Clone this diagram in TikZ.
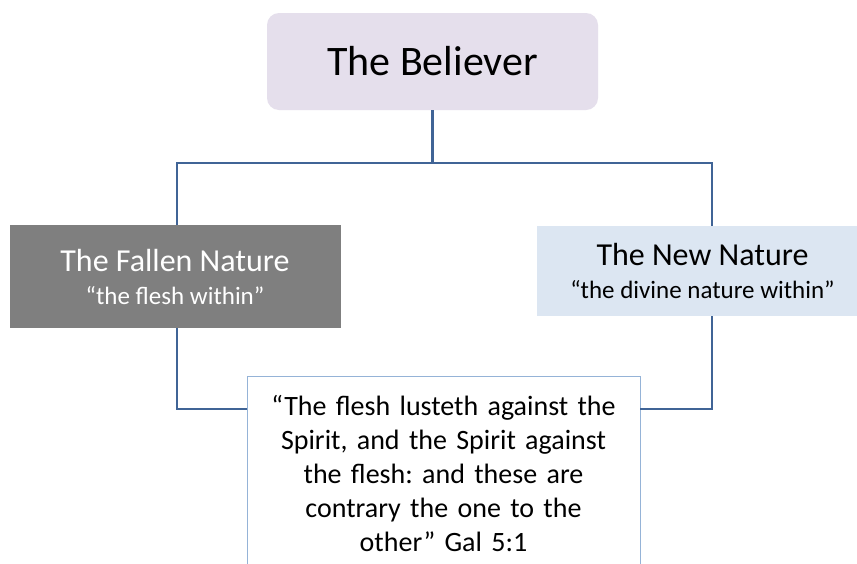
\documentclass[tikz,border=0pt]{standalone}
\usepackage{fontspec}
\setmainfont{Carlito}
\usepackage{tikz}
\usetikzlibrary{positioning,calc}
\frenchspacing

\definecolor{linkblue}{RGB}{64,100,150}
\definecolor{rootfill}{RGB}{229,223,236}
\definecolor{fallenfill}{RGB}{127,127,127}
\definecolor{newfill}{RGB}{220,230,242}
\definecolor{verseline}{RGB}{149,179,215}

\tikzset{
  link/.style={draw=linkblue, line width=2.4pt},
  rootbox/.style={fill=rootfill, rounded corners=12pt, minimum width=331pt, minimum height=97pt,
    inner sep=0pt, font=\fontsize{42}{49}\selectfont},
  naturebox/.style={minimum width=331pt, inner sep=0pt, align=center,
    font=\fontsize{32}{33}\selectfont},
  versebox/.style={draw=verseline, line width=0.8pt, fill=white, text width=380pt, align=center,
    inner xsep=6.5pt, inner ysep=19pt, font=\fontsize{28}{34}\selectfont}
}

\begin{document}
\begin{tikzpicture}[x=1pt, y=-1pt]
  \useasboundingbox (0,0) rectangle (857,563);
  \clip (0,0) rectangle (857,563);
  \fill[white] (0,0) rectangle (857,563);
  \node (believer) [rootbox] at (432.5,61.5) {The Believer};
  \node (fallen) [naturebox, fill=fallenfill, text=white, minimum height=103pt] at (175,276.5)
    {The Fallen Nature\\{\fontsize{25}{33}\selectfont “the flesh within”}};
  \node (new) [naturebox, fill=newfill, minimum height=90pt] at (702.5,271)
    {The New Nature\\{\fontsize{25}{33}\selectfont “the divine nature within”}};
  \node (verse) [versebox, anchor=north] at (443.5,376)
    {“The flesh lusteth against the\\ Spirit, and the Spirit against\\ the flesh: and these are\\ contrary the one to the\\ other” Gal 5:1};
  \coordinate (bar) at (432.5,163);
  \coordinate (meet) at (0,409);
  \draw[link] (believer.south) -- (bar) -| ($(fallen.north)+(2,0)$);
  \draw[link] (bar) -| ($(new.north)+(9.5,0)$);
  \draw[link] ($(fallen.south)+(2,0)$) |- (verse.west|-meet);
  \draw[link] ($(new.south)+(9.5,0)$) |- (verse.east|-meet);
\end{tikzpicture}
\end{document}
